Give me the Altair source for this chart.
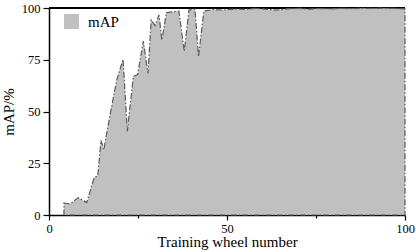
import altair as alt
import pandas as pd

epochs = [4.2, 5.9, 8.2, 10.6, 12.7, 13.7, 14.6, 15.4, 17.1, 19.0, 20.8, 22.0,
          23.7, 24.9, 26.5, 27.8, 28.7, 29.8, 30.9, 31.7, 33.0, 36.5, 38.0,
          39.3, 41.0, 42.0, 43.5, 46, 49, 52, 55, 58, 61, 64, 67, 70, 73, 76,
          79, 82, 85, 88, 91, 94, 97, 100]
map_values = [5.8, 5.3, 8.4, 6.0, 18.2, 18.8, 36.0, 31.5, 48.0, 65.0, 75.2, 40.5,
              67.0, 67.8, 84.0, 68.4, 94.2, 91.5, 96.6, 84.5, 97.8, 98.5, 79.0,
              99.0, 99.4, 76.5, 98.5, 99.2, 99.0, 99.5, 99.3, 99.8, 99.4, 99.0,
              99.6, 99.8, 99.5, 99.7, 99.6, 99.8, 99.7, 99.9, 99.8, 99.9, 99.8, 99.6]
series_name = ["mAP"]

df = pd.DataFrame({"epoch": epochs, "mAP": map_values, "series": series_name[0]})

x_scale = alt.Scale(domain=[0, 100], nice=False, zero=False)
y_scale = alt.Scale(domain=[0, 100], nice=False)

top_line = alt.Chart(df).mark_rule(color="black", strokeWidth=1.5).encode(
    y=alt.datum(100)
)

area = alt.Chart(df).mark_area(
    stroke="#5a5a5a", strokeWidth=1.2, strokeDash=[6, 2, 1.5, 2],
    fillOpacity=1, interpolate="linear"
).encode(
    x=alt.X("epoch:Q", scale=x_scale, axis=alt.Axis(
        values=[0, 25, 50, 75, 100],
        labelExpr="datum.value % 50 === 0 ? datum.label : ''",
        tickSize={"condition": {"test": "datum.value % 50 === 0", "value": 5}, "value": 3},
        title="Training wheel number", grid=False, labelPadding=2, titlePadding=0,
        labelFlush=False)),
    y=alt.Y("mAP:Q", scale=y_scale, axis=alt.Axis(
        values=[0, 12.5, 25, 37.5, 50, 62.5, 75, 87.5, 100],
        labelExpr="datum.value % 25 === 0 ? datum.label : ''",
        tickSize={"condition": {"test": "datum.value % 25 === 0", "value": 6}, "value": 3},
        title="mAP/%", grid=False, labelPadding=3, titlePadding=5, labelFlush=False)),
    fill=alt.Fill("series:N", scale=alt.Scale(domain=series_name, range=["#c0c0c0"]),
                  legend=alt.Legend(title=None, orient="none", legendX=15, legendY=6,
                                    symbolType="square", symbolSize=225,
                                    symbolStrokeWidth=0, symbolOpacity=1,
                                    labelFont="Liberation Serif", labelFontSize=15,
                                    labelColor="black", labelOffset=9, padding=0))
)

chart = alt.layer(top_line, area).properties(
    width=356, height=207,
    autosize=alt.AutoSizeParams(type="none"),
    padding={"left": 49, "top": 8, "right": 11, "bottom": 37},
).configure_view(stroke=None).configure_axis(
    labelFont="Liberation Serif", labelFontSize=12.5, labelColor="black",
    titleFont="Liberation Serif", titleFontSize=15, titleFontWeight="normal",
    titleColor="black", domainColor="black", domainWidth=1.5,
    tickColor="black", tickWidth=1.2
)

chart.save("out.html", embed_options={"renderer": "svg", "actions": False})
